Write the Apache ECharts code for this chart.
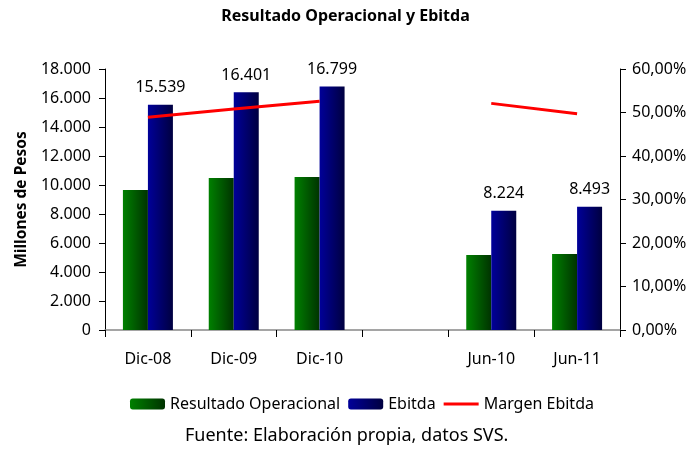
<!DOCTYPE html>
<html>
<head>
<meta charset="utf-8">
<script src="https://cdn.jsdelivr.net/npm/echarts@6/dist/echarts.min.js"></script>
<style>
html, body { margin: 0; padding: 0; background: #fff; }
#chart { width: 691px; height: 450px; }
</style>
</head>
<body>
<div id="chart"></div>
<script>
// datos
var periodos = ['Dic-08', 'Dic-09', 'Dic-10', '', 'Jun-10', 'Jun-11'];
var resultadoOperacional = [9650, 10480, 10550, null, 5170, 5240];
var ebitda = [15539, 16401, 16799, null, 8224, 8493];
var margenEbitda = [48.9, 50.8, 52.6, null, 52.1, 49.7];

var fuente = '"Noto Sans", sans-serif';

function miles(v) {
    return String(v).replace(/\B(?=(\d{3})+(?!\d))/g, '.');
}

function degradado(c1, c2) {
    return new echarts.graphic.LinearGradient(0, 0, 1, 0, [
        {offset: 0, color: c1},
        {offset: 1, color: c2}
    ]);
}

var myChart = echarts.init(document.getElementById('chart'));
var option = {
    animation: false,
    textStyle: {fontFamily: fuente},
    title: {
        text: 'Resultado Operacional y Ebitda',
        left: 'center',
        top: 3,
        textStyle: {fontSize: 16, fontWeight: 'bold', color: '#000', fontFamily: fuente}
    },
    legend: {
        top: 396,
        left: 130,
        padding: 0,
        itemWidth: 35,
        itemHeight: 11,
        itemGap: 8,
        textStyle: {fontSize: 16, color: '#000', fontFamily: fuente},
        data: [
            {name: 'Resultado Operacional'},
            {name: 'Ebitda'},
            {name: 'Margen Ebitda', icon: 'path://M0,0 L38,0 L38,3 L0,3 Z'}
        ]
    },
    graphic: [{
        type: 'text',
        left: 185,
        top: 427,
        style: {
            text: 'Fuente: Elaboración propia, datos SVS.',
            font: '18px ' + fuente,
            fill: '#000'
        }
    }],
    grid: {left: 105, right: 71, top: 69, bottom: 120},
    xAxis: {
        type: 'category',
        data: periodos,
        axisLine: {lineStyle: {color: '#888', width: 1.5}},
        axisTick: {show: true, length: 7, lineStyle: {color: '#000'}},
        axisLabel: {fontSize: 16, color: '#000', margin: 21}
    },
    yAxis: [
        {
            type: 'value',
            name: 'Millones de Pesos',
            nameLocation: 'middle',
            nameGap: 75,
            nameTextStyle: {fontSize: 15.5, fontWeight: 'bold', color: '#000'},
            min: 0,
            max: 18000,
            interval: 2000,
            axisLine: {show: true, lineStyle: {color: '#000'}},
            axisTick: {show: true, length: 6, lineStyle: {color: '#000'}},
            splitLine: {show: false},
            axisLabel: {fontSize: 16, color: '#000', margin: 14, formatter: miles}
        },
        {
            type: 'value',
            position: 'right',
            min: 0,
            max: 60,
            interval: 10,
            axisLine: {show: true, lineStyle: {color: '#000'}},
            axisTick: {show: true, length: 6, lineStyle: {color: '#000'}},
            splitLine: {show: false},
            axisLabel: {
                fontSize: 16, color: '#000', margin: 12,
                formatter: function (v) { return v.toFixed(2).replace('.', ',') + '%'; }
            }
        }
    ],
    series: [
        {
            name: 'Resultado Operacional',
            type: 'bar',
            data: resultadoOperacional,
            barWidth: 25,
            barGap: '0%',
            itemStyle: {color: degradado('#008000', '#003300')}
        },
        {
            name: 'Ebitda',
            type: 'bar',
            data: ebitda,
            barWidth: 25,
            itemStyle: {color: degradado('#000099', '#000040')},
            label: {
                show: true,
                position: 'top',
                distance: 9,
                fontSize: 16,
                color: '#000',
                formatter: function (p) { return miles(p.value); }
            }
        },
        {
            name: 'Margen Ebitda',
            type: 'line',
            yAxisIndex: 1,
            data: margenEbitda,
            symbol: 'none',
            connectNulls: false,
            lineStyle: {color: '#ff0000', width: 3},
            itemStyle: {color: '#ff0000'}
        }
    ]
};
myChart.setOption(option);
</script>
</body>
</html>
